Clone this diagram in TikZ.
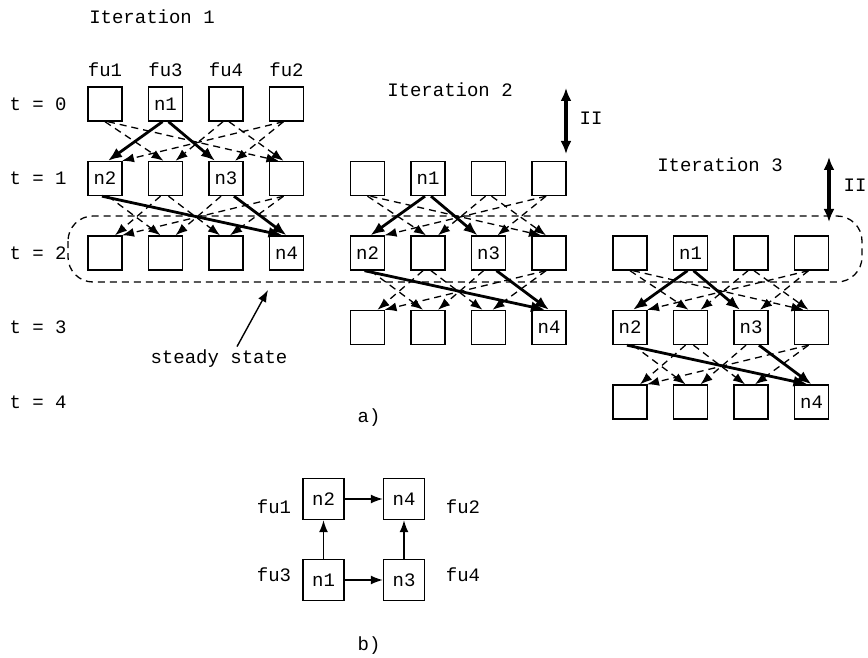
\documentclass[tikz,border=0pt]{standalone}
\usepackage{fontspec}
\setmainfont{Liberation Mono}
\usetikzlibrary{arrows.meta}
\newcommand\nlab[2]{\ifnum#1#2=2 n1\fi\ifnum#1#2=11 n2\fi\ifnum#1#2=13 n3\fi\ifnum#1#2=24 n4\fi}

\begin{document}
\begin{tikzpicture}[x=1pt,y=-1pt,font=\fontsize{19}{22}\selectfont,
	fubox/.style={draw,line width=1.4pt,minimum size=34pt,inner sep=0pt,fill=white},
	opbox/.style={fubox,minimum size=41pt},
	link/.style={line width=1.3pt,dash pattern=on 7pt off 5pt,-{Latex[length=12pt,width=9pt]}},
	used/.style={line width=2.8pt,-{Latex[length=14pt,width=11pt]}},
	plain/.style={line width=1.4pt,-{Latex[length=12pt,width=9pt]}},
	period/.style={line width=3.2pt,{Latex[length=13pt,width=11pt]}-{Latex[length=13pt,width=11pt]}}]
			\useasboundingbox (0,0) rectangle (868,658);
			\foreach \ii in {1,2,3}
				\foreach \rr in {0,1,2}
					\foreach \cc in {1,...,4}
						\node[fubox] (b\ii\rr\cc) at ({105+262.5*(\ii-1)+60.5*(\cc-1)},{104+74.5*(\ii+\rr-1)}) {\nlab\rr\cc};
			\foreach \ii in {1,2,3}{
				\foreach \src/\dst/\ssh/\dsh in {1/2/0/-2,1/4/3/-8,3/2/-3/10,3/4/3/-3,4/1/-3/17,4/3/-3/9}
					\draw[link] ([xshift=\ssh pt]b\ii0\src.south) -- ([xshift=\dsh pt]b\ii1\dst.north);
				\foreach \src/\dst/\ssh/\dsh in {2/1/-3/3,2/3/3/-11}
					\draw[used] ([xshift=\ssh pt]b\ii0\src.south) -- ([xshift=\dsh pt]b\ii1\dst.north);
				\foreach \src/\dst/\ssh/\dsh in {1/2/3/-5,3/2/-5/10,2/1/-5/10,2/3/3/-6,4/1/-3/17,4/3/-3/4}
					\draw[link] ([xshift=\ssh pt]b\ii1\src.south) -- ([xshift=\dsh pt]b\ii2\dst.north);
				\foreach \src/\dst/\ssh/\dsh in {1/4/-3/-4,3/4/8/0}
					\draw[used] ([xshift=\ssh pt]b\ii1\src.south) -- ([xshift=\dsh pt]b\ii2\dst.north);
			}
			\foreach \cc/\fu in {1/fu1,2/fu3,3/fu4,4/fu2} \node (top\cc) at ([yshift=34pt]b10\cc) {\fu};
			\foreach \t in {0,...,4} \node[anchor=west] (t\t) at (6,{104+74.5*\t}) {t = \t};
			\node (it1) at (152,17) {Iteration 1};
			\node (it2) at (450,90) {Iteration 2};
			\node (it3) at (720,165) {Iteration 3};
			\path
			(566,88) coordinate (iitop2)
			(566,154) coordinate (iibot2)
			(829,157) coordinate (iitop3)
			(829,222) coordinate (iibot3)
			(268,290) coordinate (ssend)
			;
			\draw[period] (iitop2) -- (iibot2);
			\draw[period] (iitop3) -- (iibot3);
			\node (ii2) at (591,118) {II};
			\node (ii3) at (855,185) {II};
			\draw[line width=1.3pt,dash pattern=on 7pt off 5pt,rounded corners=25pt] (68,216) rectangle (862,282);
			\node (ss) at (219,359) {steady state};
			\draw[plain] ([xshift=18pt]ss.north) -- (ssend);
			\node (capa) at (369,418) {a)};
			\node[opbox] (n1) at (323.5,580) {n1};
			\node[opbox] (n2) at (323.5,499) {n2};
			\node[opbox] (n3) at (404,580) {n3};
			\node[opbox] (n4) at (404,499) {n4};
			\draw[plain] (n2) -- (n4);
			\draw[plain] (n1) -- (n3);
			\draw[plain] (n1) -- (n2);
			\draw[plain] (n3) -- (n4);
			\node (fua) at (274,507) {fu1};
			\node (fub) at (274,575) {fu3};
			\node (fuc) at (463,507) {fu2};
			\node (fud) at (463,575) {fu4};
			\node (capb) at (369,646) {b)};
		\end{tikzpicture}
\end{document}
